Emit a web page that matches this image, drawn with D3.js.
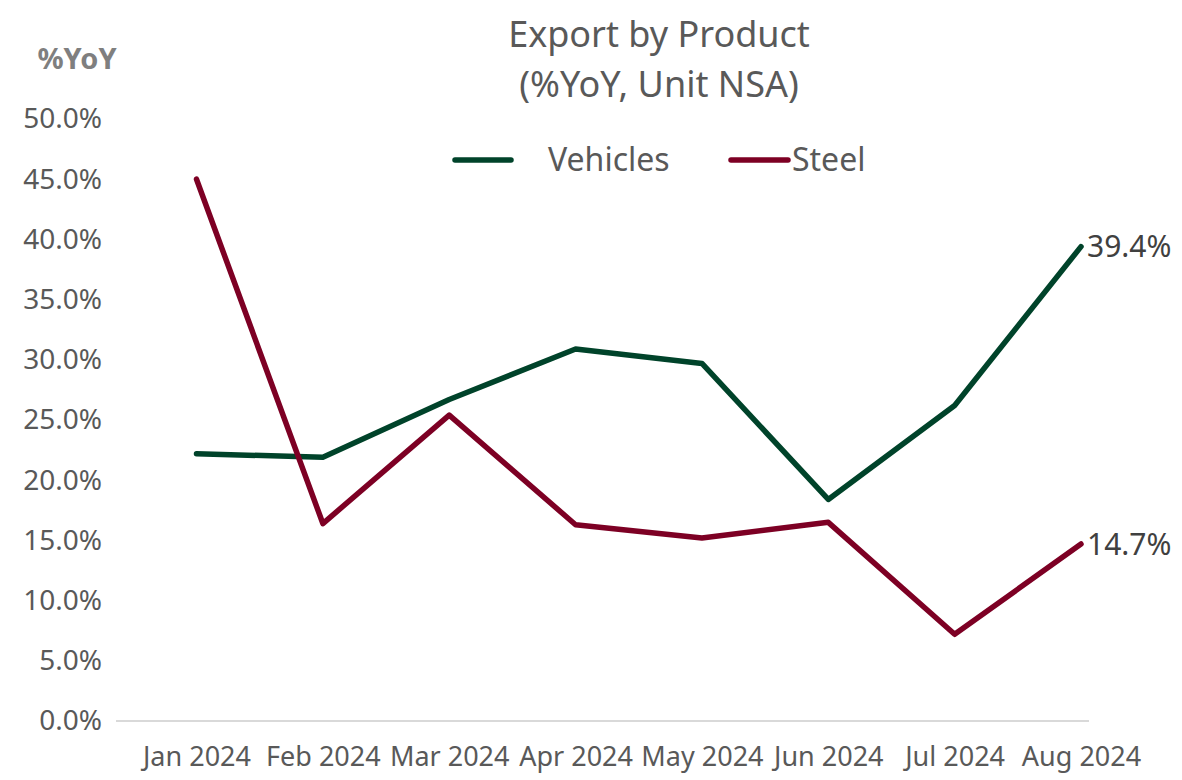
<!DOCTYPE html>
<html><head><meta charset="utf-8">
<script src="https://cdn.jsdelivr.net/npm/d3@7"></script>
<style>body{margin:0;background:#fff}text{font-family:"Noto Sans",sans-serif}</style>
</head><body><svg id="c" width="1182" height="780"></svg>
<script>
const months = ["Jan 2024","Feb 2024","Mar 2024","Apr 2024","May 2024","Jun 2024","Jul 2024","Aug 2024"];
const vehicles = [22.2, 21.9, 26.7, 30.9, 29.7, 18.4, 26.2, 39.4];
const steel = [45.0, 16.4, 25.4, 16.3, 15.2, 16.5, 7.2, 14.7];
const yTicks = [0,5,10,15,20,25,30,35,40,45,50];
const seriesNames = ["Vehicles","Steel"];
const colors = ["#00432a","#7d0024"];

const svg = d3.select("#c");
const x = d3.scalePoint().domain(months).range([196.5,1081]);
const y = d3.scaleLinear().domain([0,50]).range([721,119]);

// baseline
svg.append("line").attr("x1",116).attr("x2",1089).attr("y1",y(0)).attr("y2",y(0))
  .attr("stroke","#d9d9d9").attr("stroke-width",2);

// y axis
const ya = svg.append("g").attr("transform","translate(102,0)")
  .call(d3.axisLeft(y).tickValues(yTicks).tickSize(0).tickPadding(0).tickFormat(d=>d.toFixed(1)+"%"));
ya.select(".domain").remove();
ya.selectAll("text").attr("font-size",28).attr("fill","#595959").attr("font-family","Noto Sans");

// x axis
const xa = svg.append("g").attr("transform","translate(0,747)")
  .call(d3.axisBottom(x).tickSize(0).tickPadding(0));
xa.select(".domain").remove();
xa.selectAll("text").attr("font-size",27).attr("fill","#595959").attr("font-family","Noto Sans");

const line = d3.line().x((d,i)=>x(months[i])).y(d=>y(d));
[vehicles, steel].forEach((s,k)=>{
  svg.append("path").datum(s).attr("d",line).attr("fill","none")
    .attr("stroke",colors[k]).attr("stroke-width",5.5).attr("stroke-linejoin","round").attr("stroke-linecap","round");
  const last = s[s.length-1];
  svg.append("text").attr("x",x(months[months.length-1])+6).attr("y",y(last)).attr("dy","0.35em")
    .attr("font-size",30).attr("fill","#404040").text(last.toFixed(1)+"%");
});

// title
svg.append("text").attr("x",659).attr("y",47).attr("text-anchor","middle").attr("font-size",36).attr("fill","#595959").text("Export by Product");
svg.append("text").attr("x",659).attr("y",97).attr("text-anchor","middle").attr("font-size",36).attr("fill","#595959").text("(%YoY, Unit NSA)");

// y unit label
svg.append("text").attr("x",77).attr("y",69).attr("text-anchor","middle").attr("font-size",29).attr("font-weight","bold").attr("fill","#7f7f7f").text("%YoY");

// legend
const leg = [{x1:455,x2:511,tx:548},{x1:731,x2:788,tx:792}];
seriesNames.forEach((n,k)=>{
  svg.append("line").attr("x1",leg[k].x1).attr("x2",leg[k].x2).attr("y1",160).attr("y2",160)
    .attr("stroke",colors[k]).attr("stroke-width",5.5).attr("stroke-linecap","round");
  svg.append("text").attr("x",leg[k].tx).attr("y",160).attr("dy","0.35em").attr("font-size",32).attr("fill","#595959").text(n);
});
</script></body></html>
